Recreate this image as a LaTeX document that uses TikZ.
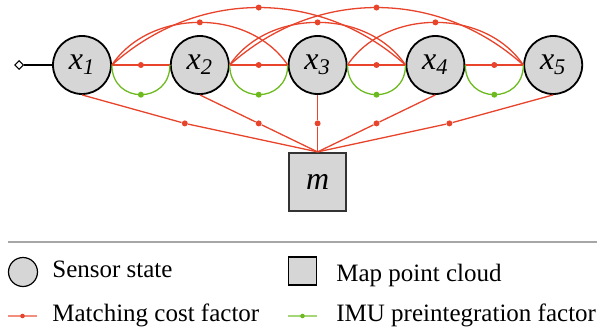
\documentclass[tikz,border=0pt]{standalone}
\usepackage{fontspec}
\setmainfont{Liberation Serif}
\usetikzlibrary{shapes,arrows,calc,positioning,backgrounds}
\definecolor{mcred}{HTML}{E8432B}
\definecolor{imugreen}{HTML}{6DBA1F}
\definecolor{stategray}{HTML}{D6D6D6}

\begin{document}
\begin{tikzpicture}[
        state/.style={circle,draw,fill=stategray,line width=0.9pt,minimum size=29pt,inner sep=0pt,font=\fontsize{16}{18}\selectfont\itshape},
        cloud/.style={rectangle,draw=black!80,fill=stategray,line width=0.9pt,minimum width=28.6pt,minimum height=29pt,inner sep=0pt,font=\fontsize{16}{18}\selectfont\itshape},
        mline/.style={mcred,line width=0.65pt},
        iline/.style={imugreen,line width=0.65pt},
        mdot/.style={circle,fill=mcred,inner sep=0pt,minimum size=3pt},
        idot/.style={circle,fill=imugreen,inner sep=0pt,minimum size=3pt},
        legtext/.style={anchor=base west,inner sep=0pt,font=\fontsize{12.5}{15}\selectfont}
        ]
        \useasboundingbox (-41pt,-133pt) rectangle (265.5pt,32.5pt);

        \node[state] (x1) {x\textsubscript{1}};
        \node[state, right = 29pt of x1] (x2) {x\textsubscript{2}};
        \node[state, right = 29pt of x2] (x3) {x\textsubscript{3}};
        \node[state, right = 29pt of x3] (x4) {x\textsubscript{4}};
        \node[state, right = 29pt of x4] (x5) {x\textsubscript{5}};
        \node[cloud, below = 28.5pt of x3] (m) {m};
        \node[diamond,draw,fill=white,inner sep=0pt,minimum size=4.5pt,line width=0.5pt, left = 14pt of x1] (prior) {};

        \draw[line width=0.6pt] (prior) -- (x1);

        % matching cost factors between neighbours
        \draw[mline] (x1.east) -- (x2.west) node [midway,mdot] {};
        \draw[mline] (x2.east) -- (x3.west) node [midway,mdot] {};
        \draw[mline] (x3.east) -- (x4.west) node [midway,mdot] {};
        \draw[mline] (x4.east) -- (x5.west) node [midway,mdot] {};

        % matching cost factors over two and three steps
        \draw[mline] (x1.east) to[bend left=56] node[mdot] {} (x3.west);
        \draw[mline] (x2.east) to[bend left=56] node[mdot] {} (x4.west);
        \draw[mline] (x3.east) to[bend left=56] node[mdot] {} (x5.west);
        \draw[mline] (x1.east) to[bend left=42] node[mdot] {} (x4.west);
        \draw[mline] (x2.east) to[bend left=42] node[mdot] {} (x5.west);

        % imu factors
        \draw[iline] (x1.east) to[out=-90,in=-90,looseness=1.75] node[idot] {} (x2.west);
        \draw[iline] (x2.east) to[out=-90,in=-90,looseness=1.75] node[idot] {} (x3.west);
        \draw[iline] (x3.east) to[out=-90,in=-90,looseness=1.75] node[idot] {} (x4.west);
        \draw[iline] (x4.east) to[out=-90,in=-90,looseness=1.75] node[idot] {} (x5.west);

        % factors to the map
        \node[mdot] (f1) at ($(x1.south)!0.5!(m.north)+(-7.5pt,0)$) {};
        \node[mdot] (f2) at ($(x2.south)!0.5!(m.north)$) {};
        \node[mdot] (f3) at ($(x3.south)!0.5!(m.north)$) {};
        \node[mdot] (f4) at ($(x4.south)!0.5!(m.north)$) {};
        \node[mdot] (f5) at ($(x5.south)!0.5!(m.north)+(7pt,0)$) {};
        \draw[mline] (x1.south) -- (f1) -- (m.north);
        \draw[mline] (x2.south) -- (f2) -- (m.north);
        \draw[mline] (x3.south) -- (f3) -- (m.north);
        \draw[mline] (x4.south) -- (f4) -- (m.north);
        \draw[mline] (x5.south) -- (f5) -- (m.north);

        % legend
        \draw[black!35,line width=0.8pt] (-37pt,-88.5pt) -- (257.5pt,-88.5pt);
        \node[circle,draw,fill=stategray,line width=0.6pt,minimum size=14.5pt,inner sep=0pt] (lstate) at (-29.5pt,-103.5pt) {};
        \node[legtext] (tstate) at (-15pt,-106.3pt) {Sensor state};
        \node[rectangle,draw,fill=stategray,line width=0.6pt,minimum size=14pt,inner sep=0pt] (lcloud) at (110.25pt,-103pt) {};
        \node[legtext] (tcloud) at (127pt,-108.3pt) {Map point cloud};

        \coordinate (lm1) at (-37pt,-125.5pt);
        \coordinate (lm2) at (-22.5pt,-125.5pt);
        \draw[mline,draw=mcred!60] (lm1) -- (lm2) node[midway,mdot,minimum size=2.3pt] {};
        \node[legtext] (tmatch) at (-15pt,-128.3pt) {Matching cost factor};
        \coordinate (li1) at (103pt,-125.5pt);
        \coordinate (li2) at (117.5pt,-125.5pt);
        \draw[iline,draw=imugreen!60] (li1) -- (li2) node[midway,idot,minimum size=2.3pt] {};
        \node[legtext] (timu) at (127pt,-128.3pt) {IMU preintegration factor};

        \end{tikzpicture}
\end{document}
